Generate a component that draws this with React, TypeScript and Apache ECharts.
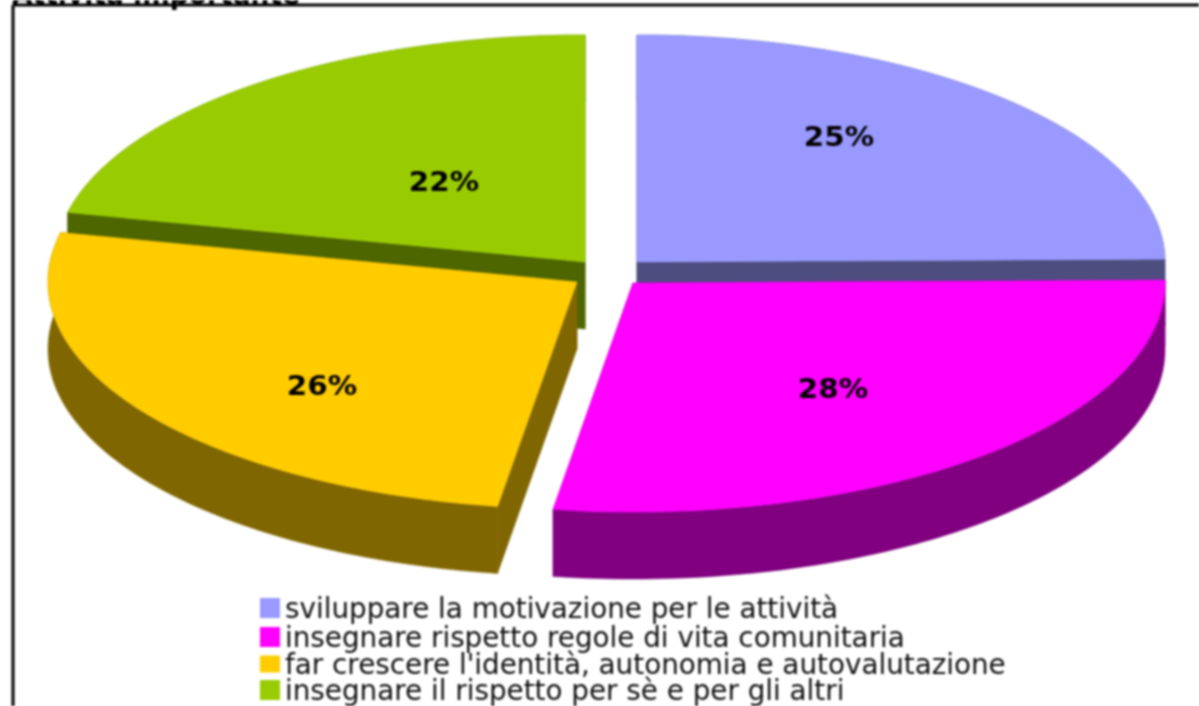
import React, { useEffect, useRef } from "react";
import * as echarts from "echarts";

const categories = [
  "sviluppare la motivazione per le attività",
  "insegnare rispetto regole di vita comunitaria",
  "far crescere l'identità, autonomia e autovalutazione",
  "insegnare il rispetto per sè e per gli altri",
];
// Estimated unrounded shares: the printed labels (25, 28, 26, 22) add up to 101
const percentValues = [24.8, 27.6, 26.1, 21.5];
const topColors = ["#9999ff", "#ff00ff", "#ffcc00", "#99cc00"];
const sideColors = ["#4d4d80", "#800080", "#806600", "#4d6600"];
const titleText = "Attività importante";

// Layout of the exploded pie (not data)
const centres = [[637, 262], [633, 283], [577, 282], [585, 262]];
const radii = [[528, 227], [532, 229], [529, 227], [530, 227]];
const labelCentres = [[839, 137], [833, 389], [322, 386], [444, 182]];
const legendTops = [594, 623, 650, 676];
const legendSwatchHeight = [20, 20, 17, 20];
const drawOrder = [3, 0, 2, 1];
const DEPTH = 67;

const total = percentValues.reduce((a, b) => a + b, 0);
const cumulative = percentValues.map((_, i) =>
  percentValues.slice(0, i).reduce((a, b) => a + b, 0)
);

function sliceRender(i: number) {
  return () => {
    const [cx, cy] = centres[i];
    const [rx, ry] = radii[i];
    const at = (deg: number) => {
      const r = (deg * Math.PI) / 180;
      return [cx + rx * Math.sin(r), cy - ry * Math.cos(r)];
    };
    const a0 = (cumulative[i] / total) * 360;
    const a1 = ((cumulative[i] + percentValues[i]) / total) * 360;
    const arc: number[][] = [];
    const steps = Math.ceil(a1 - a0);
    for (let k = 0; k <= steps; k++) {
      arc.push(at(a0 + ((a1 - a0) * k) / steps));
    }
    const down = (p: number[]) => [p[0], p[1] + DEPTH];
    const side = sideColors[i];
    const poly = (points: number[][], fill: string) => ({
      type: "polygon",
      shape: { points },
      style: { fill, stroke: fill, lineWidth: 0.5 },
    });
    const apex = [cx, cy];
    const first = arc[0];
    const last = arc[arc.length - 1];
    return {
      type: "group",
      children: [
        poly([apex, first, down(first), down(apex)], side),
        poly([apex, last, down(last), down(apex)], side),
        poly([...arc, ...arc.map(down).reverse()], side),
        poly([apex, ...arc], topColors[i]),
        {
          type: "text",
          x: labelCentres[i][0],
          y: labelCentres[i][1],
          scaleX: 1.13,
          style: {
            text: `${Math.round(percentValues[i])}%`,
            fill: "#000",
            font: 'bold 26px "DejaVu Sans"',
            align: "center",
            verticalAlign: "middle",
          },
        },
      ],
    };
  };
}

export default function App() {
  const ref = useRef<HTMLDivElement>(null);
  useEffect(() => {
    const chart = echarts.init(ref.current!, null, { renderer: "svg" });
    chart.setOption({
      animation: false,
      backgroundColor: "#fff",
      legend: categories.map((name, i) => ({
        data: [name],
        left: 260,
        top: legendTops[i],
        padding: 0,
        icon: "rect",
        itemWidth: 20,
        itemHeight: legendSwatchHeight[i],
        selectedMode: false,
        textStyle: {
          fontFamily: "DejaVu Sans",
          fontSize: 27.8,
          lineHeight: legendSwatchHeight[i],
          color: "#111",
        },
      })),
      graphic: [
        {
          type: "text",
          x: 12,
          y: 8,
          style: {
            text: titleText,
            fill: "#000",
            font: 'bold 26.5px "DejaVu Sans"',
            verticalAlign: "bottom",
          },
        },
        {
          type: "line",
          shape: { x1: 13, y1: 5, x2: 1199, y2: 5 },
          style: { stroke: "#000", lineWidth: 3 },
        },
        {
          type: "line",
          shape: { x1: 13, y1: 5, x2: 13, y2: 706 },
          style: { stroke: "#000", lineWidth: 3 },
        },
      ],
      series: drawOrder.map((i) => ({
        type: "custom",
        name: categories[i],
        coordinateSystem: "none",
        silent: true,
        itemStyle: { color: topColors[i] },
        data: [[percentValues[i]]],
        renderItem: sliceRender(i),
      })),
    });
    return () => chart.dispose();
  }, []);
  return (
    <div
      ref={ref}
      style={{
        position: "fixed",
        left: 0,
        top: 0,
        width: 1199,
        height: 706,
        filter: "blur(0.8px)",
      }}
    />
  );
}
